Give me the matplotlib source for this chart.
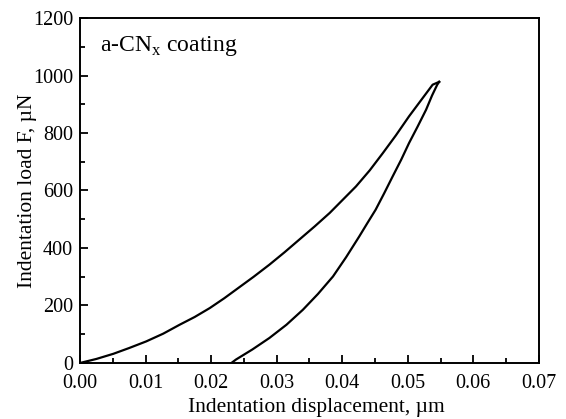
import matplotlib.pyplot as plt
from matplotlib.ticker import MultipleLocator

plt.rcParams['font.family'] = ['Liberation Serif', 'DejaVu Serif']
plt.rcParams['mathtext.fontset'] = 'custom'
plt.rcParams['mathtext.rm'] = 'Liberation Serif'

# loading branch (displacement um, load uN)
load_h = [0.0, 0.0025, 0.0051, 0.0075, 0.0101, 0.0127, 0.0152, 0.0175, 0.0198,
          0.0220, 0.0238, 0.0265, 0.0289, 0.0312, 0.0335, 0.0358, 0.0381, 0.0401,
          0.0421, 0.0442, 0.0462, 0.0482, 0.0502, 0.0520, 0.0538, 0.0548]
load_f = [0, 14, 32, 52, 75, 102, 133, 160, 191, 225, 255, 300, 342, 385, 430,
          475, 522, 568, 614, 670, 730, 792, 858, 913, 968, 978]

# unloading branch
unload_h = [0.0548, 0.0545, 0.0537, 0.0528, 0.0515, 0.0502, 0.0490, 0.0477,
            0.0464, 0.0451, 0.0438, 0.0426, 0.0406, 0.0386, 0.0363, 0.0340,
            0.0315, 0.0289, 0.0263, 0.0238, 0.0231]
unload_f = [978, 968, 930, 881, 822, 765, 707, 649, 590, 533, 485, 440, 368,
            301, 240, 185, 133, 87, 47, 12, 0]

fig = plt.figure(figsize=(5.66, 4.19), dpi=100)
ax = fig.add_axes([0.1413, 0.1337, 0.8107, 0.8233])

ax.plot(load_h, load_f, color='black', lw=1.6)
ax.plot(unload_h, unload_f, color='black', lw=1.6)

ax.set_xlim(0, 0.07)
ax.set_ylim(0, 1200)
ax.xaxis.set_major_locator(MultipleLocator(0.01))
ax.xaxis.set_minor_locator(MultipleLocator(0.005))
ax.yaxis.set_major_locator(MultipleLocator(200))
ax.yaxis.set_minor_locator(MultipleLocator(100))
ax.xaxis.set_major_formatter(plt.FormatStrFormatter('%.2f'))
ax.tick_params(which='both', direction='in', top=False, right=False, labelsize=14.5, width=1.3)
ax.tick_params(which='major', length=6)
ax.tick_params(which='minor', length=3.5)
ax.tick_params(axis='x', pad=8)
ax.tick_params(axis='y', pad=5)
for s in ax.spines.values():
    s.set_linewidth(1.4)

ax.set_xlabel('Indentation displacement, µm', fontsize=15.5)
ax.xaxis.set_label_coords(0.516, -0.102)
ax.set_ylabel('Indentation load F, µN', fontsize=15.5, labelpad=-3)
ax.text(0.0031, 1085, r'a-CN$_\mathregular{x}$ coating', fontsize=17)

fig.savefig('out.png', dpi=100)
